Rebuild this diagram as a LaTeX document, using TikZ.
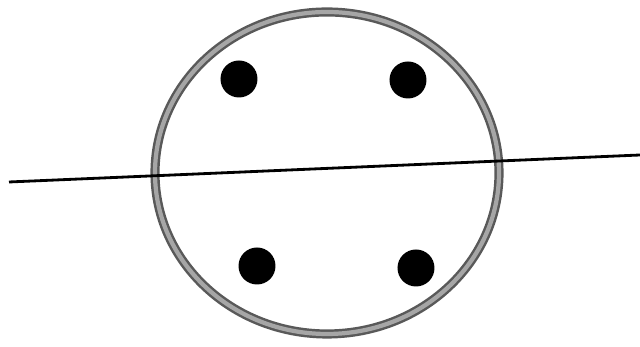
\documentclass[tikz,border=0pt]{standalone}
\usepackage{tikz}
\usetikzlibrary{shapes.geometric}

\begin{document}
\begin{tikzpicture}[
  rim/.style={ellipse, draw=black!65, double=black!35, line width=0.7pt, double distance=1.2pt, inner sep=0pt, minimum width=3.44cm, minimum height=3.22cm},
  dot/.style={circle, fill=black, inner sep=0pt, minimum size=0.37cm},
  axis/.style={draw, line width=0.8pt}
]
\useasboundingbox (0,0) rectangle (6.40,3.47);
% Outer ring
\node[rim] (ring) at (3.27, 1.74) {};
% Line through the ring
\coordinate (lft) at (0.09, 1.65);
\coordinate (rgt) at (6.40, 1.92);
\draw[axis] (lft) -- (rgt);
% Four dots
\node[dot] (ul) at (2.39, 2.68) {};
\node[dot] (ur) at (4.08, 2.67) {};
\node[dot] (ll) at (2.57, 0.81) {};
\node[dot] (lr) at (4.16, 0.79) {};
\end{tikzpicture}
\end{document}
